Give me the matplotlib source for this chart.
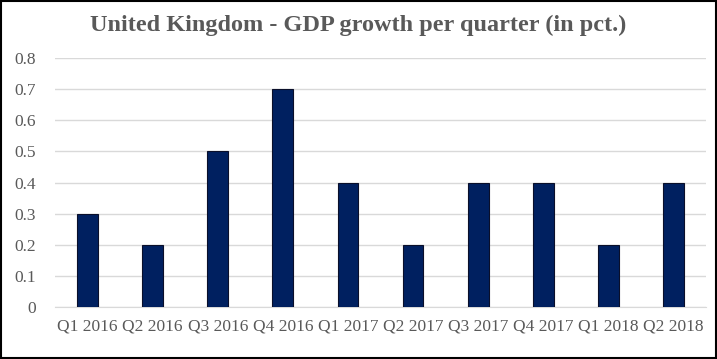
import numpy as np
import matplotlib
matplotlib.use('Agg')
import matplotlib.pyplot as plt

quarters = ['Q1 2016', 'Q2 2016', 'Q3 2016', 'Q4 2016', 'Q1 2017',
            'Q2 2017', 'Q3 2017', 'Q4 2017', 'Q1 2018', 'Q2 2018']
growth = [0.3, 0.2, 0.5, 0.7, 0.4, 0.2, 0.4, 0.4, 0.2, 0.4]
yticks = [0, 0.1, 0.2, 0.3, 0.4, 0.5, 0.6, 0.7, 0.8]

plt.rcParams['font.family'] = ['Liberation Serif', 'DejaVu Serif']
grey = '#595959'

fig = plt.figure(figsize=(7.17, 3.59), dpi=100)
ax = fig.add_axes([0.0767, 0.145, 0.908, 0.693])

x = np.arange(len(quarters))
ax.bar(x, growth, width=0.32, color='#002060', edgecolor='#0a0f2a', linewidth=0.8, zorder=3)

ax.set_xlim(-0.5, len(quarters) - 0.5)
ax.set_ylim(0, 0.8)
ax.set_yticks(yticks)
ax.set_yticklabels([f'{v:g}' for v in yticks])
ax.set_xticks(x)
ax.set_xticklabels(quarters)
ax.tick_params(length=0, labelsize=12.5, colors=grey, pad=8)
ax.tick_params(axis='y', pad=14)
ax.grid(axis='y', color='#d9d9d9', linewidth=1, zorder=0)
for s in ['top', 'right', 'left']:
    ax.spines[s].set_visible(False)
ax.spines['bottom'].set_color('#d9d9d9')

fig.text(0.5, 0.928, 'United Kingdom - GDP growth per quarter (in pct.)',
         ha='center', va='center', fontsize=17.5, fontweight='bold', color=grey)

# outer frame
fig.patches.append(plt.Rectangle((0.001, 0.002), 0.997, 0.995, transform=fig.transFigure,
                                 fill=False, edgecolor='black', linewidth=1.5))

fig.savefig('out.png', dpi=100)
